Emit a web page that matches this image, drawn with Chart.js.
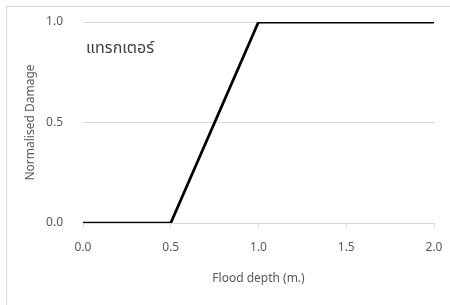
<!DOCTYPE html>
<html>
<head>
<meta charset="utf-8">
<script src="https://cdn.jsdelivr.net/npm/chart.js@4.4.0/dist/chart.umd.min.js"></script>
<style>
  html, body { margin: 0; padding: 0; background: #fff; }
  #wrap { position: relative; width: 450px; height: 305px; overflow: hidden; }
  #frame { position: absolute; left: 6px; top: 6px; width: 460px; height: 320px; border: 1px solid #d9d9d9; box-sizing: border-box; }
  canvas { position: absolute; left: 0; top: 0; }
</style>
</head>
<body>
<div id="wrap">
  <div id="frame"></div>
  <canvas id="lineChart" width="450" height="305"></canvas>
</div>
<script>
// Damage curve data
const depths = [0.0, 0.5, 1.0, 2.0];
const damage = [0.0, 0.0, 1.0, 1.0];
const xTicks = [0.0, 0.5, 1.0, 1.5, 2.0];
const yTicks = [0.0, 0.5, 1.0];
const curveLabel = 'แทรกเตอร์';

const fontFamily = '"Noto Sans", "Noto Sans Thai", "Open Sans", sans-serif';
const gridColor = '#d9d9d9';
const textColor = '#595959';

// Draws the Thai label in the upper-left part of the plot
const labelPlugin = {
    id: 'curveLabel',
    afterDraw(chart) {
        const ctx = chart.ctx;
        const area = chart.chartArea;
        ctx.save();
        ctx.font = '16px ' + fontFamily;
        ctx.fillStyle = '#404040';
        ctx.textBaseline = 'middle';
        ctx.fillText(curveLabel, area.left + 3, 48);
        ctx.restore();
    }
};

const ctx = document.getElementById('lineChart').getContext('2d');
const lineChart = new Chart(ctx, {
    type: 'line',
    data: {
        datasets: [{
            label: curveLabel,
            data: depths.map((d, i) => ({ x: d, y: damage[i] })),
            borderColor: '#000000',
            borderWidth: 2.75,
            pointRadius: 0,
            fill: false,
            tension: 0
        }]
    },
    options: {
        responsive: false,
        animation: false,
        layout: { padding: { top: 22, right: 16, left: 0, bottom: 0 } },
        plugins: {
            legend: { display: false },
            tooltip: { enabled: false }
        },
        scales: {
            x: {
                type: 'linear',
                min: 0,
                max: 2,
                afterBuildTicks: scale => { scale.ticks = xTicks.map(v => ({ value: v })); },
                afterFit: scale => {
                    scale.height = 82;
                    scale.paddingLeft = 0;
                    scale.paddingRight = 0;
                },
                grid: {
                    drawOnChartArea: false,
                    color: gridColor,
                    tickLength: 4
                },
                border: { color: gridColor },
                ticks: {
                    color: textColor,
                    font: { family: fontFamily, size: 12 },
                    padding: 13,
                    callback: v => v.toFixed(1)
                },
                title: {
                    display: true,
                    text: 'Flood depth (m.)',
                    color: textColor,
                    font: { family: fontFamily, size: 12 },
                    padding: { top: 0, bottom: 19 }
                }
            },
            y: {
                type: 'linear',
                min: 0,
                max: 1,
                afterBuildTicks: scale => { scale.ticks = yTicks.map(v => ({ value: v })); },
                afterFit: scale => {
                    scale.width = 83;
                    scale.paddingTop = 0;
                    scale.paddingBottom = 0;
                },
                grid: {
                    color: gridColor,
                    drawTicks: false
                },
                border: { display: false },
                ticks: {
                    color: textColor,
                    font: { family: fontFamily, size: 12 },
                    padding: 20,
                    callback: v => v.toFixed(1)
                },
                title: {
                    display: true,
                    text: 'Normalised Damage',
                    color: textColor,
                    font: { family: fontFamily, size: 12 },
                    padding: { top: 23, bottom: 0 }
                }
            }
        }
    },
    plugins: [labelPlugin]
});
</script>
</body>
</html>
